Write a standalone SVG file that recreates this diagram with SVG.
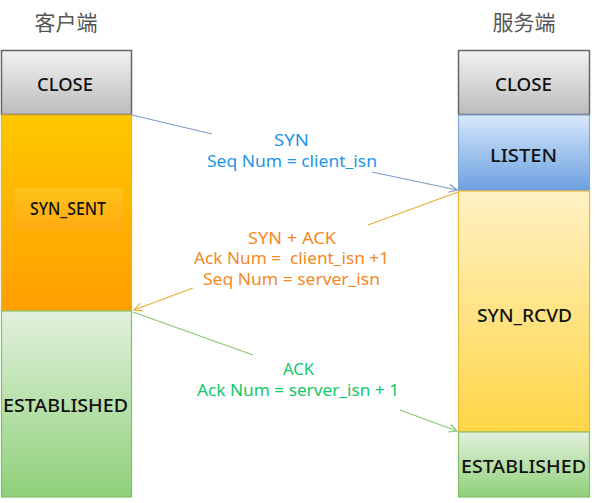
<svg xmlns="http://www.w3.org/2000/svg" width="597" height="503" viewBox="0 0 597 503">
<defs>
<linearGradient id="gGray" x1="0" y1="0" x2="0" y2="1"><stop offset="0" stop-color="#f2f2f2"/><stop offset="1" stop-color="#bcbcbc"/></linearGradient>
<linearGradient id="gOrange" x1="0" y1="0" x2="0" y2="1"><stop offset="0" stop-color="#ffc800"/><stop offset="1" stop-color="#ff9e00"/></linearGradient>
<linearGradient id="gInner" x1="0" y1="0" x2="0" y2="1"><stop offset="0" stop-color="#ffc21a"/><stop offset="1" stop-color="#ffaa10"/></linearGradient>
<linearGradient id="gGreen" x1="0" y1="0" x2="0" y2="1"><stop offset="0" stop-color="#e2f1dc"/><stop offset="1" stop-color="#8fd07a"/></linearGradient>
<linearGradient id="gBlue" x1="0" y1="0" x2="0" y2="1"><stop offset="0" stop-color="#d8e8fb"/><stop offset="1" stop-color="#6a9fe0"/></linearGradient>
<linearGradient id="gYellow" x1="0" y1="0" x2="0" y2="1"><stop offset="0" stop-color="#fff1c4"/><stop offset="1" stop-color="#ffd647"/></linearGradient>
<marker id="aBlue" markerWidth="10" markerHeight="10" refX="9" refY="5" orient="auto" markerUnits="userSpaceOnUse"><path d="M1,1 L9,5 L1,9" fill="none" stroke="#7a9cc8" stroke-width="1.2"/></marker>
<marker id="aOrange" markerWidth="10" markerHeight="10" refX="9" refY="5" orient="auto" markerUnits="userSpaceOnUse"><path d="M1,1 L9,5 L1,9" fill="none" stroke="#e8b030" stroke-width="1.2"/></marker>
<marker id="aGreen" markerWidth="10" markerHeight="10" refX="9" refY="5" orient="auto" markerUnits="userSpaceOnUse"><path d="M1,1 L9,5 L1,9" fill="none" stroke="#8cc474" stroke-width="1.2"/></marker>
</defs>
<style>
.title{font-family:"Noto Sans CJK SC","Noto Sans",sans-serif;font-size:21px;fill:#555;text-anchor:middle}
.st{font-family:"Noto Sans","Liberation Sans",sans-serif;font-size:18px;font-weight:500;fill:#111;text-anchor:middle}
.lbl{font-family:"Noto Sans","Liberation Sans",sans-serif;font-size:16px;text-anchor:middle;white-space:pre}
.blue{fill:#1e96e6}.orange{fill:#f5891f}.green{fill:#14c86a}
</style>
<rect width="597" height="503" fill="#fff"/>
<text class="title" x="66" y="30">客户端</text>
<text class="title" x="524" y="30">服务端</text>
<g id="client-close"><rect x="1.5" y="50.5" width="130" height="64" fill="url(#gGray)" stroke="#666" stroke-width="1.5"/><text class="st" x="65" y="91" textLength="56" lengthAdjust="spacingAndGlyphs">CLOSE</text></g>
<g id="client-synsent"><rect x="1.5" y="115" width="130" height="196" fill="url(#gOrange)" stroke="#f0b020" stroke-width="1.2"/><rect x="14" y="188" width="109" height="43" fill="url(#gInner)"/><text class="st" x="68" y="215" textLength="76" lengthAdjust="spacingAndGlyphs">SYN_SENT</text></g>
<g id="client-established"><rect x="1.5" y="311" width="130" height="186" fill="url(#gGreen)" stroke="#84bf68" stroke-width="1.2"/><text class="st" x="65.5" y="412" textLength="125" lengthAdjust="spacingAndGlyphs">ESTABLISHED</text></g>
<g id="server-close"><rect x="458.5" y="50.5" width="131" height="64" fill="url(#gGray)" stroke="#666" stroke-width="1.5"/><text class="st" x="523.5" y="91" textLength="57" lengthAdjust="spacingAndGlyphs">CLOSE</text></g>
<g id="server-listen"><rect x="458.5" y="115" width="131" height="76" fill="url(#gBlue)" stroke="#80a8d8" stroke-width="1.2"/><text class="st" x="523.5" y="162" textLength="67" lengthAdjust="spacingAndGlyphs">LISTEN</text></g>
<g id="server-synrcvd"><rect x="458.5" y="191" width="131" height="241" fill="url(#gYellow)" stroke="#e8b840" stroke-width="1.2"/><text class="st" x="524.5" y="322" textLength="95" lengthAdjust="spacingAndGlyphs">SYN_RCVD</text></g>
<g id="server-established"><rect x="458.5" y="432" width="131" height="65" fill="url(#gGreen)" stroke="#84bf68" stroke-width="1.2"/><text class="st" x="523.5" y="473" textLength="125" lengthAdjust="spacingAndGlyphs">ESTABLISHED</text></g>
<g id="connectors" fill="none" stroke-width="1.2">
<path d="M132,115 L212,134" stroke="#7a9cc8"/>
<path d="M372,172 L457,190" stroke="#7a9cc8" marker-end="url(#aBlue)"/>
<path d="M458,192 L368,225" stroke="#e8b030"/>
<path d="M193,288 L134,310" stroke="#e8b030" marker-end="url(#aOrange)"/>
<path d="M133,312 L253,355" stroke="#8cc474"/>
<path d="M400,410 L457,431" stroke="#8cc474" marker-end="url(#aGreen)"/>
</g>
<g id="labels">
<text class="lbl blue" x="291.5" y="146" textLength="35" lengthAdjust="spacingAndGlyphs">SYN</text>
<text class="lbl blue" x="292" y="167" textLength="170" lengthAdjust="spacingAndGlyphs">Seq Num = client_isn</text>
<text class="lbl orange" x="292" y="244" textLength="88" lengthAdjust="spacingAndGlyphs">SYN + ACK</text>
<text class="lbl orange" x="291.5" y="264" textLength="195" lengthAdjust="spacingAndGlyphs" xml:space="preserve">Ack Num =  client_isn +1</text>
<text class="lbl orange" x="291.5" y="285" textLength="177" lengthAdjust="spacingAndGlyphs">Seq Num = server_isn</text>
<text class="lbl green" x="298.5" y="375" textLength="31" lengthAdjust="spacingAndGlyphs">ACK</text>
<text class="lbl green" x="298" y="396" textLength="202" lengthAdjust="spacingAndGlyphs">Ack Num = server_isn + 1</text>
</g>
</svg>
